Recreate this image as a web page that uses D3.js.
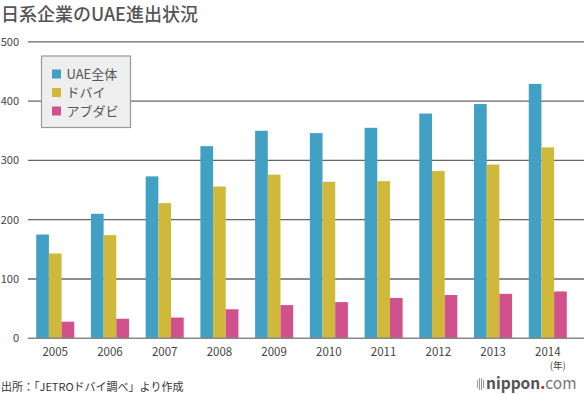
<!DOCTYPE html>
<html><head><meta charset="utf-8">
<script src="https://cdn.jsdelivr.net/npm/d3@7"></script>
<style>
body{margin:0;background:#fff;}
text{font-family:"Noto Sans CJK JP","Liberation Sans",sans-serif;}
</style></head>
<body>
<svg id="c" width="584" height="394"></svg>
<script>
const years = ["2005","2006","2007","2008","2009","2010","2011","2012","2013","2014"];
const seriesNames = ["UAE全体","ドバイ","アブダビ"];
const uae = [175,210,273,324,350,346,355,379,395,429];
const dubai = [143,174,228,256,276,264,265,282,293,322];
const abudhabi = [28,33,35,49,56,61,68,73,75,79];
const colors = ["#41a1c4","#d0b93a","#d0518c"];
const yTicks = [0,100,200,300,400,500];

const svg = d3.select("#c");
const x = d3.scaleBand().domain(years).range([28,575]).paddingInner(0.305).paddingOuter(0.15);
const xs = d3.scaleBand().domain(seriesNames).range([0,x.bandwidth()]);
const y = d3.scaleLinear().domain([0,500]).range([338.3,41.8]);
const data = [uae,dubai,abudhabi];

// title
svg.append("text").attr("x",1).attr("y",21).attr("font-size",18).attr("fill","#555").attr("font-weight",500).text("日系企業のUAE進出状況");

// gridlines
svg.append("g").selectAll("line").data(yTicks.filter(d=>d>0)).join("line")
  .attr("x1",28).attr("x2",584).attr("y1",d=>y(d)).attr("y2",d=>y(d))
  .attr("stroke","#666").attr("stroke-width",1.3);

// y labels
svg.append("g").selectAll("text").data(yTicks).join("text")
  .attr("x",19).attr("y",d=>y(d)+4).attr("text-anchor","end")
  .attr("font-size",11).attr("fill","#444").attr("font-family","Liberation Sans, Arial, sans-serif").text(d=>d);

// bars
const g = svg.append("g");
data.forEach((vals,si)=>{
  g.append("g").selectAll("rect").data(vals).join("rect")
    .attr("x",(d,i)=>x(years[i])+xs(seriesNames[si]))
    .attr("y",d=>y(d))
    .attr("width",xs.bandwidth())
    .attr("height",d=>y(0)-y(d))
    .attr("fill",colors[si]);
});

// axis line
svg.append("line").attr("x1",28).attr("x2",584).attr("y1",y(0)).attr("y2",y(0)).attr("stroke","#888").attr("stroke-width",1.5);

// x labels
svg.append("g").selectAll("text").data(years).join("text")
  .attr("x",d=>x(d)+x.bandwidth()/2).attr("y",355.5).attr("text-anchor","middle")
  .attr("font-size",11.5).attr("fill","#444").attr("font-family","Liberation Sans, Arial, sans-serif").text(d=>d);
svg.append("text").attr("x",x("2014")+x.bandwidth()/2+10).attr("y",369).attr("text-anchor","middle")
  .attr("font-size",9.5).attr("fill","#444").attr("font-family","Liberation Sans, 'Noto Sans CJK JP', sans-serif").text("(年)");

// legend
const lg = svg.append("g");
lg.append("rect").attr("x",41.5).attr("y",56).attr("width",89).attr("height",71.5).attr("fill","#eee").attr("stroke","#999").attr("stroke-width",1.2);
seriesNames.forEach((n,i)=>{
  const cy = 74 + i*18.5;
  lg.append("rect").attr("x",52).attr("y",cy-4.5).attr("width",9).attr("height",9).attr("fill",colors[i]);
  lg.append("text").attr("x",66.5).attr("y",cy+4.5).attr("font-size",13).attr("fill","#555").text(n);
});

// source
svg.append("text").attr("x",1).attr("y",391).attr("font-size",11).attr("fill","#333").text("出所：「JETROドバイ調べ」より作成");

// logo
const logo = svg.append("g");
[0,2,4,6].forEach((dx,i)=>{
  logo.append("rect").attr("x",477+dx).attr("y",i===0||i===3?380:378).attr("width",1).attr("height",i===0||i===3?8:12).attr("fill","#999");
});
const t = logo.append("text").attr("x",486).attr("y",389).attr("font-size",15.5).attr("font-family","Liberation Sans, Arial, sans-serif");
t.append("tspan").attr("font-weight","bold").attr("fill","#555").text("nippon");
t.append("tspan").attr("font-weight","bold").attr("fill","#e60012").text(".");
t.append("tspan").attr("fill","#777").text("com");
</script>
</body></html>
